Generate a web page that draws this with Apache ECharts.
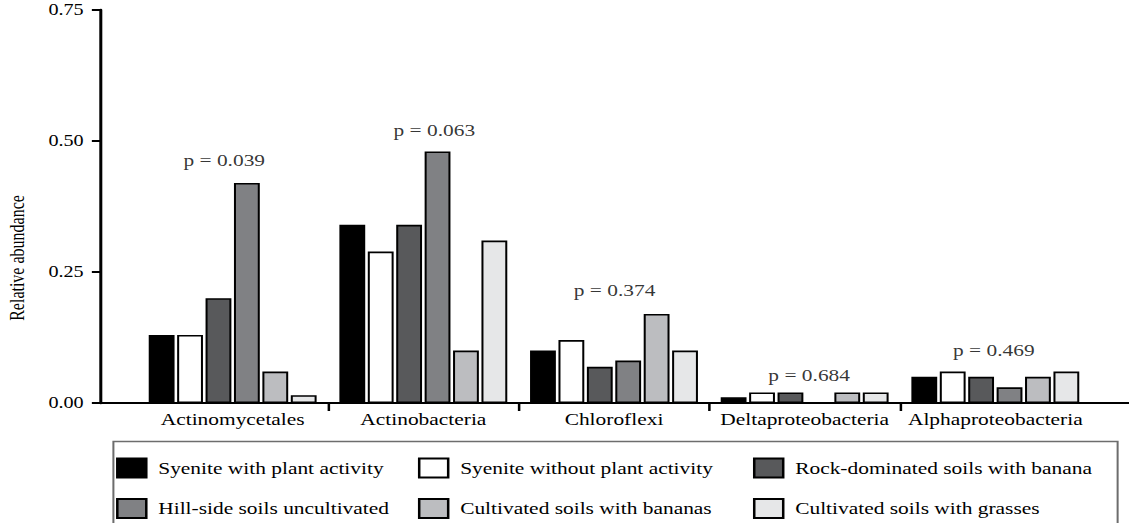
<!DOCTYPE html>
<html><head><meta charset="utf-8">
<script src="https://cdn.jsdelivr.net/npm/echarts@6/dist/echarts.min.js"></script>
<style>
html,body{margin:0;padding:0;background:#fff;overflow:hidden;}
#main{width:896px;height:523px;transform:scaleX(1.26);transform-origin:0 0;}
</style></head><body><div id="main"></div>
<script>
const categories = ['Actinomycetales', 'Actinobacteria', 'Chloroflexi', 'Deltaproteobacteria', 'Alphaproteobacteria'];
const seriesNames = [
  'Syenite with plant activity',
  'Syenite without plant activity',
  'Rock-dominated soils with banana',
  'Hill-side soils uncultivated',
  'Cultivated soils with bananas',
  'Cultivated soils with grasses'
];
const syeniteWithPlant    = [0.130, 0.340, 0.100, 0.011, 0.050];
const syeniteWithoutPlant = [0.130, 0.289, 0.120, 0.020, 0.060];
const rockBanana          = [0.200, 0.340, 0.069, 0.020, 0.050];
const hillSideUncult      = [0.420, 0.480, 0.081, 0.000, 0.030];
const cultivatedBananas   = [0.060, 0.100, 0.170, 0.020, 0.050];
const cultivatedGrasses   = [0.015, 0.310, 0.100, 0.020, 0.060];
const pValueLabels = ['p = 0.039', 'p = 0.063', 'p = 0.374', 'p = 0.684', 'p = 0.469'];
const pValueLabelY = [0.464, 0.520, 0.216, 0.052, 0.100];
const yMin = 0, yMax = 0.75, yStep = 0.25;

const seriesValues = [syeniteWithPlant, syeniteWithoutPlant, rockBanana, hillSideUncult, cultivatedBananas, cultivatedGrasses];
const colors = ['#000000', '#ffffff', '#58595b', '#808184', '#bcbdc0', '#e6e7e8'];
const FONT = '"Liberation Serif", "Times New Roman", serif';

const chart = echarts.init(document.getElementById('main'), null, {renderer: 'svg'});

const barSeries = seriesValues.map((vals, i) => ({
  name: seriesNames[i],
  type: 'bar',
  xAxisIndex: 1, yAxisIndex: 1,
  data: vals,
  barWidth: 20.5,
  barGap: '10%',
  itemStyle: {color: colors[i], borderColor: '#000', borderWidth: 1.6},
  emphasis: {disabled: true},
  silent: true
}));

const labelDx = [-6.7, 8.7, 0.5, 3.6, -1.2];
const pSeries = {
  type: 'scatter',
  xAxisIndex: 1, yAxisIndex: 1,
  symbolSize: 1,
  itemStyle: {color: 'rgba(0,0,0,0)'},
  silent: true,
  data: categories.map((c, i) => ({
    value: [c, pValueLabelY[i]],
    label: {
      show: true, position: 'inside', offset: [labelDx[i], 0],
      formatter: pValueLabels[i],
      fontFamily: FONT, fontSize: 17, color: '#000'
    }
  }))
};

function legendCol(left, names) {
  return {
    orient: 'vertical', left: left, top: 457.5, padding: 0,
    itemWidth: 23, itemHeight: 19, itemGap: 19.5,
    icon: 'rect', selectedMode: false,
    data: names,
    textStyle: {fontFamily: FONT, fontSize: 17, color: '#000', padding: [0, 0, 0, 4.5]}
  };
}

chart.setOption({
  animation: false,
  backgroundColor: '#fff',
  grid: [
    {left: 79.4, right: 0, top: 10, bottom: 120},
    {left: 109, right: 30.4, top: 10, bottom: 120}
  ],
  xAxis: [
    {
      type: 'value', gridIndex: 0, min: -0.1956, max: 5.2009,
      axisLine: {show: true, onZero: false, lineStyle: {color: '#000', width: 2}},
      axisTick: {show: true, customValues: [1, 2, 3, 4], length: 8, lineStyle: {color: '#000', width: 2}},
      axisLabel: {show: false},
      splitLine: {show: false}
    },
    {
      type: 'category', gridIndex: 1, data: categories,
      axisLine: {show: false}, axisTick: {show: false},
      axisLabel: {interval: 0, fontFamily: FONT, fontSize: 17, color: '#000', margin: 8, hideOverlap: false},
      splitLine: {show: false}
    }
  ],
  yAxis: [
    {
      type: 'value', gridIndex: 0, min: yMin, max: yMax, interval: yStep,
      axisLine: {show: true, onZero: false, lineStyle: {color: '#000', width: 2.4}},
      axisTick: {show: true, length: 6.5, lineStyle: {color: '#000', width: 2}},
      axisLabel: {fontFamily: FONT, fontSize: 16, color: '#000', margin: 13,
                  formatter: v => v.toFixed(2), padding: [3, 0, 0, 0]},
      splitLine: {show: false}
    },
    {type: 'value', gridIndex: 1, min: yMin, max: yMax, show: false}
  ],
  legend: [
    legendCol(92.1, [seriesNames[0], seriesNames[3]]),
    legendCol(331.7, [seriesNames[1], seriesNames[4]]),
    legendCol(597.6, [seriesNames[2], seriesNames[5]])
  ],
  graphic: [
    {
      type: 'text', silent: true,
      x: 14, y: 258, rotation: Math.PI / 2,
      style: {text: 'Relative abundance', fontFamily: FONT, fontSize: 16, fill: '#000',
              align: 'center', verticalAlign: 'middle'}
    },
    {
      type: 'rect', silent: true, z: -1,
      shape: {x: 90, y: 441.5, width: 797, height: 200},
      style: {fill: 'none', stroke: '#6d6d6d', lineWidth: 1.6}
    }
  ],
  series: barSeries.concat([pSeries])
});
</script></body></html>
